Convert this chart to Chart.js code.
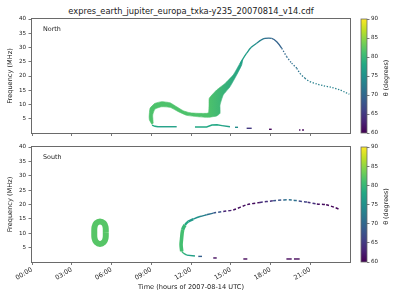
<!DOCTYPE html>
<html>
<head>
<meta charset="utf-8">
<script src="https://cdn.jsdelivr.net/npm/chart.js@4/dist/chart.umd.min.js"></script>
<style>
  body { margin: 0; background: #fff; }
  #wrap { position: relative; width: 400px; height: 300px; font-family: "DejaVu Sans", sans-serif; }
  canvas { position: absolute; left: 0; }
  #title { position: absolute; top: 6px; left: 32px; width: 318px; line-height: 10px; text-align: center;
           font-size: 8.3px; color: #222; white-space: nowrap; }
</style>
</head>
<body>
<div id="wrap">
  <div id="title">expres_earth_jupiter_europa_txka-y235_20070814_v14.cdf</div>
  <canvas id="north" width="400" height="140" style="top:0"></canvas>
  <canvas id="south" width="400" height="160" style="top:140px"></canvas>
</div>
<script>
// time in hours (UTC), frequency in MHz, theta in degrees
const xTicks = [0, 3, 6, 9, 12, 15, 18, 21];
const yTicks = [5, 10, 15, 20, 25, 30, 35, 40];
const thetaTicks = [60, 65, 70, 75, 80, 85, 90];

// North: thick band (outer edge, wedge, then inner edge back)
const northBandTime = [9.05, 8.86, 8.84, 8.91, 9.28, 9.79, 10.42, 10.92, 11.42, 11.92, 12.55, 13.18, 13.33, 13.36, 13.38,
  13.94, 14.57, 15.19, 15.70, 15.90, 15.83, 15.45, 14.94, 14.43, 14.19, 14.19, 13.94, 13.31, 12.55, 11.68, 11.04,
  10.42, 9.79, 9.28, 9.11, 9.15];
const northBandFreq = [3.0, 4.6, 5.7, 8.7, 10.4, 11.0, 10.6, 9.2, 7.8, 7.1, 6.9, 6.9, 7.2, 9.8, 12.2,
  15.1, 17.4, 20.4, 24.5, 25.8, 23.9, 20.4, 16.2, 13.3, 9.8, 6.9, 6.0, 5.5, 5.7, 6.2, 7.5,
  9.0, 9.2, 8.4, 6.3, 3.4];
const northBandShadeTime = [13.3, 15.9];
const northBandShadeTheta = [81.5, 77];

// North: thin arc up to the peak and the dotted tail
const northArcTime = [15.7, 15.92, 16.20, 16.53, 16.96, 17.28, 17.58, 18.09, 18.47, 18.85, 19.22, 19.60, 19.98,
  20.23, 20.60, 20.98, 21.49, 21.98, 22.62, 23.25, 23.62, 23.95];
const northArcFreq = [24.3, 26.0, 28.0, 30.0, 31.5, 32.6, 33.2, 33.2, 32.0, 29.7, 26.8, 24.5, 22.7,
  20.9, 19.2, 18.0, 17.2, 16.6, 16.0, 15.1, 14.3, 13.6];
const northArcTheta = [77, 77, 76, 75, 73.5, 72, 70.5, 69.5, 69.5, 70, 70.5, 71, 71.5,
  72, 72.5, 73, 73, 73, 73, 73, 73, 73];

// North: low frequency trace (null = gap)
const northLowTime = [9.06, 9.28, 9.51, 10.92, null, 12.30, 13.18, 13.58, 13.96, 14.34, 14.94, null, 15.32, 15.55, null,
  16.20, 16.58, null, 17.89, 18.09, null, 20.15, 20.26, null, 20.38, 20.53];
const northLowFreq = [2.8, 2.35, 2.2, 2.2, null, 2.1, 2.1, 2.8, 2.9, 2.6, 2.2, null, 2.0, 2.0, null,
  1.65, 1.65, null, 1.3, 1.3, null, 1.05, 1.05, null, 1.05, 1.05];
const northLowTheta = [78, 78, 77, 77, null, 78, 78, 78, 78, 77, 76, null, 74.5, 74.5, null,
  65, 65, null, 60.5, 60.5, null, 60.5, 60.5, null, 60.5, 60.5];

// South: the ring around 05:00
const southRingTime = [5.57, 5.55, 5.42, 5.13, 4.85, 4.72, 4.70, 4.72, 4.85, 5.13, 5.42, 5.55, 5.57];
const southRingFreq = [10.2, 12.2, 13.5, 14.1, 13.5, 12.2, 10.2, 8.2, 6.9, 6.3, 6.9, 8.2, 10.2];
const southRingTheta = 82;

// South: main arc
const southArcTime = [11.30, 11.25, 11.28, 11.37, 11.55, 11.80, 12.17, 12.68, 13.18, 13.68, 14.44, 15.19, 16.2,
  17.2, 18.2, 19.0, 19.6, 20.15, 20.8, 21.5, 22.2, 22.9, 23.25];
const southArcFreq = [3.7, 6.0, 7.7, 11.2, 12.9, 14.1, 14.9, 15.8, 16.4, 17.0, 17.6, 18.1, 19.9,
  20.7, 21.3, 21.6, 21.6, 21.2, 20.8, 20.2, 19.9, 18.9, 18.2];
const southArcTheta = [81, 81, 81, 80, 78, 76, 75, 73, 71, 68, 63, 61, 61,
  64, 68, 71, 71, 66, 64, 61, 60.5, 60.5, 60.5];

// South: low frequency trace
const southLowTime = [11.30, 11.42, 11.68, 12.30, null, 12.55, 12.83, null, 13.68, 13.94, null, 15.95, 16.25, null,
  19.2, 19.6, null, 19.77, 20.2];
const southLowFreq = [3.7, 3.1, 2.4, 2.1, null, 1.95, 1.95, null, 1.4, 1.4, null, 1.05, 1.05, null,
  1.05, 1.05, null, 1.05, 1.05];
const southLowTheta = [80, 79, 77, 75, null, 69, 69, null, 61, 61, null, 60.5, 60.5, null,
  60.5, 60.5, null, 60.5, 60.5];

const FONT = '"DejaVu Sans", sans-serif';
const viridis = ['#440154', '#482475', '#414487', '#355f8d', '#2a788e', '#21918c',
  '#22a884', '#44bf70', '#7ad151', '#bddf26', '#fde725'];

function hexRgb(h) {
  return [1, 3, 5].map(i => parseInt(h.slice(i, i + 2), 16));
}

function thetaColor(t) {
  const lo = thetaTicks[0], hi = thetaTicks[thetaTicks.length - 1];
  let u = (t - lo) / (hi - lo) * (viridis.length - 1);
  u = Math.max(0, Math.min(viridis.length - 1, u));
  const i = Math.min(viridis.length - 2, Math.floor(u));
  const f = u - i;
  const a = hexRgb(viridis[i]), b = hexRgb(viridis[i + 1]);
  const c = a.map((v, k) => Math.round(v + (b[k] - v) * f));
  return `rgb(${c[0]},${c[1]},${c[2]})`;
}

function pts(xs, ys) {
  return xs.map((x, i) => ({ x: x, y: ys[i] }));
}

const panelPlugin = {
  id: 'panel',
  afterDraw(chart, args, opts) {
    const ctx = chart.ctx;
    const a = chart.chartArea;
    ctx.save();
    // frame
    ctx.strokeStyle = '#6a6a6a';
    ctx.lineWidth = 1;
    ctx.strokeRect(Math.round(a.left) - 0.5, Math.round(a.top) - 0.5,
      Math.round(a.right - a.left) + 1, Math.round(a.bottom - a.top) + 1);
    // panel name
    ctx.fillStyle = '#222';
    ctx.font = '6.4px ' + FONT;
    ctx.textBaseline = 'middle';
    ctx.fillText(opts.name, a.left + 11, a.top + 10.5);
    // colorbar
    const cb = chart.scales.cb;
    const g = ctx.createLinearGradient(0, cb.bottom, 0, cb.top);
    viridis.forEach((c, i) => g.addColorStop(i / (viridis.length - 1), c));
    ctx.fillStyle = g;
    ctx.fillRect(cb.left - 6, cb.top, 6, cb.bottom - cb.top);
    ctx.strokeStyle = '#6a6a6a';
    ctx.lineWidth = 0.8;
    ctx.strokeRect(cb.left - 6, cb.top, 6, cb.bottom - cb.top);
    ctx.translate(386, (cb.top + cb.bottom) / 2 + 2);
    ctx.rotate(-Math.PI / 2);
    ctx.textAlign = 'center';
    ctx.fillStyle = '#222';
    ctx.font = '6.4px ' + FONT;
    ctx.fillText('\u03b8 (degrees)', 0, 0);
    ctx.restore();
  }
};

function makePanel(id, name, datasets, showTime, padTop, xHeight) {
  return new Chart(document.getElementById(id), {
    type: 'line',
    data: { datasets: datasets },
    options: {
      responsive: false,
      animation: false,
      events: [],
      devicePixelRatio: 1,
      layout: { padding: { top: padTop, left: 0, right: 0, bottom: 0 } },
      elements: { point: { radius: 0 } },
      plugins: {
        legend: { display: false },
        tooltip: { enabled: false },
        panel: { name: name }
      },
      scales: {
        x: {
          type: 'linear',
          min: 0,
          max: 24,
          afterBuildTicks: s => { s.ticks = xTicks.map(v => ({ value: v })); },
          afterFit: s => { s.height = xHeight; },
          grid: { drawOnChartArea: false, tickLength: 3, color: '#555', tickWidth: 0.8 },
          border: { display: false },
          ticks: {
            display: showTime,
            autoSkip: false,
            minRotation: 30,
            maxRotation: 30,
            padding: 1,
            color: '#222',
            font: { family: FONT, size: 6.4 },
            callback: v => String(v).padStart(2, '0') + ':00'
          },
          title: {
            display: showTime,
            text: 'Time (hours of 2007-08-14 UTC)',
            color: '#222',
            font: { family: FONT, size: 6.6 },
            padding: { top: 0, bottom: 9 }
          }
        },
        y: {
          min: 0,
          max: 40,
          afterBuildTicks: s => { s.ticks = yTicks.map(v => ({ value: v })); },
          afterFit: s => { s.width = 32; },
          grid: { drawOnChartArea: false, tickLength: 3.5, color: '#555', tickWidth: 0.8 },
          border: { display: false },
          ticks: { padding: 2.5, color: '#222', font: { family: FONT, size: 5.6 } },
          title: {
            display: true,
            text: 'Frequency (MHz)',
            color: '#222',
            font: { family: FONT, size: 6.6 },
            padding: { top: 6, bottom: 0 }
          }
        },
        sp: {
          type: 'linear',
          position: 'right',
          weight: 0,
          grid: { display: false },
          ticks: { display: false },
          border: { display: false },
          afterFit: s => { s.width = 17; }
        },
        cb: {
          type: 'linear',
          position: 'right',
          weight: 1,
          min: thetaTicks[0],
          max: thetaTicks[thetaTicks.length - 1],
          afterBuildTicks: s => { s.ticks = thetaTicks.map(v => ({ value: v })); },
          afterFit: s => { s.width = 33; },
          grid: { drawOnChartArea: false, tickLength: 2.5, color: '#555', tickWidth: 0.8 },
          border: { display: false },
          ticks: { padding: 1.5, color: '#222', font: { family: FONT, size: 5.6 } }
        }
      }
    },
    plugins: [panelPlugin]
  });
}

const bandColor = c => {
  const solid = thetaColor(northBandShadeTheta[0]);
  const xs = c.chart.scales.x;
  if (!xs) return solid;
  const x0 = xs.getPixelForValue(northBandShadeTime[0]);
  const x1 = xs.getPixelForValue(northBandShadeTime[1]);
  if (!isFinite(x0) || !isFinite(x1) || x0 === x1) return solid;
  const g = c.chart.ctx.createLinearGradient(x0, 0, x1, 0);
  g.addColorStop(0, solid);
  g.addColorStop(1, thetaColor(northBandShadeTheta[1]));
  return g;
};

makePanel('north', 'North', [
  {
    data: pts(northArcTime, northArcFreq),
    borderWidth: 1.3,
    tension: 0.3,
    borderColor: thetaColor(73),
    segment: {
      borderColor: c => thetaColor(northArcTheta[c.p0DataIndex]),
      borderDash: c => northArcTime[c.p0DataIndex] >= 18.5 ? [1.3, 1.6] : undefined
    }
  },
  {
    data: pts(northLowTime, northLowFreq),
    borderWidth: 1.4,
    spanGaps: false,
    borderColor: thetaColor(77),
    segment: { borderColor: c => thetaColor(northLowTheta[c.p0DataIndex]) }
  },
  {
    data: pts(northBandTime, northBandFreq),
    fill: 'shape',
    tension: 0.15,
    borderWidth: 0.6,
    borderColor: bandColor,
    backgroundColor: bandColor
  }
], false, 19, 7);

makePanel('south', 'South', [
  {
    data: pts(southArcTime, southArcFreq),
    tension: 0.3,
    borderWidth: 1.5,
    borderColor: thetaColor(70),
    segment: {
      borderColor: c => thetaColor(southArcTheta[c.p0DataIndex]),
      borderWidth: c => c.p0DataIndex < 4 ? 3.6 : (c.p0DataIndex < 6 ? 2.4 : 1.5),
      borderDash: c => c.p0DataIndex >= 9 ? [3, 2] : undefined
    }
  },
  {
    data: pts(southLowTime, southLowFreq),
    borderWidth: 1.4,
    spanGaps: false,
    borderColor: thetaColor(75),
    segment: { borderColor: c => thetaColor(southLowTheta[c.p0DataIndex]) }
  },
  {
    data: pts(southRingTime, southRingFreq),
    tension: 0.4,
    borderWidth: 6,
    borderColor: thetaColor(southRingTheta)
  }
], true, 7, 38);
</script>
</body>
</html>
